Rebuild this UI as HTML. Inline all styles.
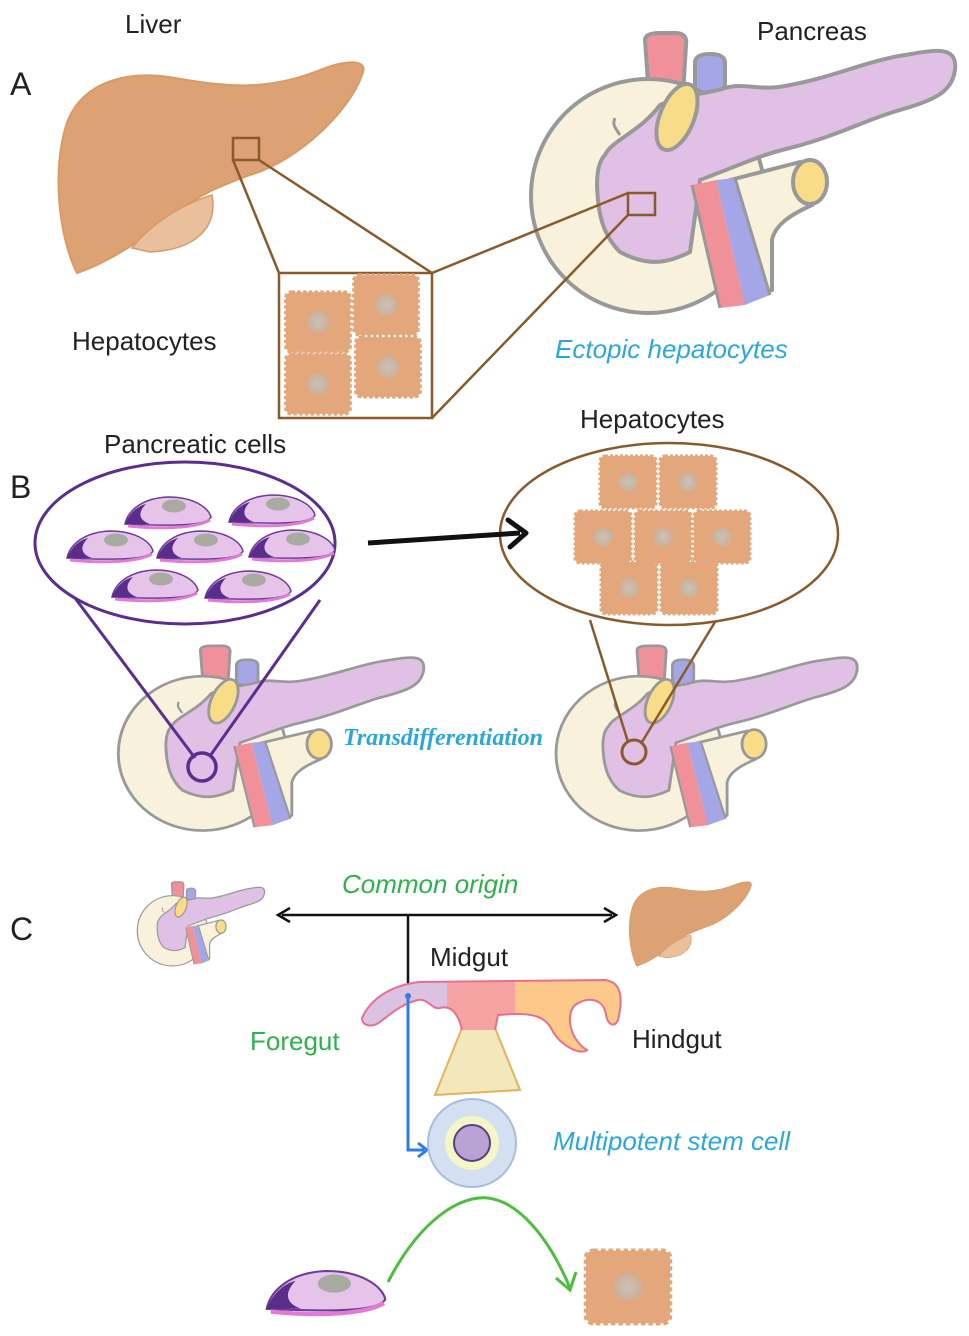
<!DOCTYPE html>
<html><head><meta charset="utf-8"><style>
html,body{margin:0;padding:0;background:#fff}
svg{display:block}
text{font-family:"Liberation Sans",sans-serif}
</style></head><body>
<svg width="969" height="1336" viewBox="0 0 969 1336" xmlns="http://www.w3.org/2000/svg">
<defs>
<radialGradient id="nuc"><stop offset="0" stop-color="#c8c2b8"/><stop offset="1" stop-color="#cfae94"/></radialGradient>
<g id="hep">
  <rect x="-28" y="-26" width="56" height="52" rx="5" fill="#e3a77b" stroke="#e3a77b" stroke-width="3" stroke-dasharray="3 2"/>
  <circle cx="0" cy="0" r="10" fill="url(#nuc)"/>
</g>
<g id="pcell">
  <path d="M-43,12 C-40,-2 -25,-14 0,-15 C25,-15 40,-5 43,5 C40,12 20,15 -43,12 Z" fill="#e6c4ea" stroke="#6d3a98" stroke-width="1.5"/>
  <path d="M-43,12 C-38,0 -30,-6 -22,-8 C-30,0 -30,8 -18,12 Z" fill="#5a2d8a"/>
  <path d="M-40,14 C0,18 30,15 42,8" fill="none" stroke="#e27ad6" stroke-width="3"/>
  <ellipse cx="6" cy="-6" rx="12" ry="6.5" fill="#a9aba3"/>
</g>
<g id="panc">
  <path d="M645,40 Q645,33 660,33 L675,33 Q688,33 686,45 L682,112 L650,112 Z" fill="#f0919a" stroke="#999" stroke-width="4"/>
  <path d="M695,62 Q696,54 710,54 Q724,54 725,62 L725,98 L695,98 Z" fill="#a5a6e6" stroke="#999" stroke-width="4"/>
  <circle cx="648" cy="196" r="117" fill="#f8f2dc" stroke="#999" stroke-width="4"/>
  <path d="M730,180 L800,162 L812,205 C790,215 775,225 772,240 L772,290 L745,302 Z" fill="#f8f2dc" stroke="#999" stroke-width="4"/>
  <path d="M605,155 C612,140 640,132 660,105 C690,92 705,95 725,88 C745,82 760,92 790,85 C830,78 870,60 905,55 C935,50 958,45 955,70 C952,92 935,100 900,110 C870,118 840,135 790,148 C760,155 740,165 700,180 L690,252 C670,262 650,268 620,252 C603,235 598,215 597,185 C597,170 600,160 605,155 Z" fill="#e0c0e4" stroke="#999" stroke-width="4"/>
  <path d="M620,135 C615,128 612,124 615,118" fill="none" stroke="#999" stroke-width="3"/>
  <path d="M692,185 L716,180 L745,305 L720,308 Z" fill="#f0919a"/>
  <path d="M716,180 L735,178 L770,295 L745,305 Z" fill="#a5a6e6"/>
  <path d="M692,185 L720,308 M735,178 L770,295" stroke="#999" stroke-width="3" fill="none"/>
  <ellipse cx="677" cy="117" rx="17" ry="35" transform="rotate(22 677 117)" fill="#f8dc88" stroke="#999" stroke-width="4"/>
  <ellipse cx="810" cy="182" rx="17" ry="22" fill="#f8dc88" stroke="#999" stroke-width="4"/>
</g>
<g id="liver">
  <path d="M77,273 C60,240 50,170 68,120 C85,80 130,70 175,78 C230,88 270,90 320,70 C345,60 370,58 362,75 C350,110 300,160 250,175 C215,188 200,195 180,210 C150,235 110,262 77,273 Z" fill="#dda274" stroke="#d99a66" stroke-width="2"/>
  <path d="M132,248 C150,225 180,205 212,195 C218,228 195,250 150,252 Z" fill="#e9bf9c" stroke="#d99a66" stroke-width="1.5"/>
</g>
</defs>

<!-- Panel A -->
<text x="125" y="33" font-size="26" fill="#222">Liver</text>
<text x="757" y="40" font-size="26" fill="#222">Pancreas</text>
<text x="10" y="95" font-size="32" fill="#222">A</text>
<use href="#liver"/>
<use href="#panc"/>
<rect x="233" y="138" width="26" height="22" fill="none" stroke="#8b5a2b" stroke-width="2.5"/>
<rect x="628" y="193" width="27" height="22" fill="none" stroke="#8b5a2b" stroke-width="2.5"/>
<g stroke="#8b5a2b" stroke-width="2.5" fill="none">
<line x1="233" y1="160" x2="279" y2="273"/>
<line x1="259" y1="160" x2="432" y2="273"/>
<line x1="628" y1="193" x2="432" y2="273"/>
<line x1="628" y1="215" x2="432" y2="418"/>
<rect x="279" y="273" width="153" height="145" fill="#fff"/>
</g>
<use href="#hep" transform="translate(318,322) scale(1.15)"/>
<use href="#hep" transform="translate(386,305) scale(1.15)"/>
<use href="#hep" transform="translate(388,367) scale(1.15)"/>
<use href="#hep" transform="translate(318,384) scale(1.15)"/>
<text x="72" y="350" font-size="26" fill="#222">Hepatocytes</text>
<text x="555" y="358" font-size="26" font-style="italic" fill="#29a8e0">Ectopic hepatocytes</text>

<!-- Panel B -->
<text x="10" y="498" font-size="32" fill="#222">B</text>
<text x="104" y="453" font-size="26" fill="#222">Pancreatic cells</text>
<text x="580" y="428" font-size="26" fill="#222">Hepatocytes</text>
<use href="#panc" transform="translate(-264,624) scale(0.72,0.66)"/>
<use href="#panc" transform="translate(179,624) scale(0.71,0.66)"/>
<ellipse cx="185" cy="543" rx="150" ry="81" fill="#fff" stroke="#5c2d91" stroke-width="3"/>
<line x1="75" y1="598" x2="195" y2="758" stroke="#5c2d91" stroke-width="3"/>
<line x1="320" y1="600" x2="210" y2="756" stroke="#5c2d91" stroke-width="3"/>
<circle cx="202" cy="767" r="14" fill="none" stroke="#5c2d91" stroke-width="3.5"/>
<use href="#pcell" x="168" y="512"/>
<use href="#pcell" x="272" y="510"/>
<use href="#pcell" x="110" y="546"/>
<use href="#pcell" x="200" y="546"/>
<use href="#pcell" x="292" y="545"/>
<use href="#pcell" x="155" y="585"/>
<use href="#pcell" x="248" y="586"/>
<ellipse cx="669" cy="534" rx="169" ry="91" fill="#fff" stroke="#8b5a2b" stroke-width="2.5"/>
<line x1="590" y1="620" x2="628" y2="742" stroke="#8b5a2b" stroke-width="2.5"/>
<line x1="715" y1="622" x2="642" y2="742" stroke="#8b5a2b" stroke-width="2.5"/>
<circle cx="634" cy="752" r="12" fill="none" stroke="#8b5a2b" stroke-width="3"/>
<use href="#hep" x="628" y="482"/>
<use href="#hep" x="688" y="482"/>
<use href="#hep" x="603" y="537"/>
<use href="#hep" x="663" y="537"/>
<use href="#hep" x="722" y="537"/>
<use href="#hep" x="629" y="588"/>
<use href="#hep" x="689" y="588"/>
<line x1="368" y1="543" x2="520" y2="533" stroke="#111" stroke-width="5"/>
<path d="M508,520 L526,533 L510,547" fill="none" stroke="#111" stroke-width="5" stroke-linecap="round" stroke-linejoin="round"/>
<text x="343" y="745" font-size="24" font-weight="bold" font-style="italic" fill="#29a8e0" style="font-family:'Liberation Serif',serif">Transdifferentiation</text>

<!-- Panel C -->
<text x="10" y="940" font-size="32" fill="#222">C</text>
<use href="#panc" transform="translate(-22,872) scale(0.3,0.3)"/>
<use href="#liver" transform="translate(606,857) scale(0.4)"/>
<text x="342" y="893" font-size="26" font-style="italic" fill="#2db34a">Common origin</text>
<line x1="282" y1="915" x2="612" y2="915" stroke="#111" stroke-width="2.5"/>
<path d="M290,908 L278,915 L290,922 M604,908 L616,915 L604,922" fill="none" stroke="#111" stroke-width="2.5"/>
<line x1="408" y1="915" x2="408" y2="995" stroke="#111" stroke-width="2.5"/>
<text x="430" y="966" font-size="26" fill="#222">Midgut</text>
<text x="250" y="1050" font-size="26" fill="#2db34a">Foregut</text>
<text x="632" y="1048" font-size="26" fill="#222">Hindgut</text>
<path d="M462,1028 L495,1028 L520,1090 L435,1095 Z" fill="#f3e7bc" stroke="#e6b25a" stroke-width="2"/>
<clipPath id="gutc"><path d="M362,1018 C370,1000 390,985 420,982 L605,980 C620,982 624,995 618,1020 C614,1028 608,1025 606,1015 C604,1000 590,995 575,1005 C565,1015 570,1040 587,1050 C580,1056 560,1045 552,1030 C545,1015 530,1012 498,1015 L495,1030 L462,1030 C458,1012 450,1005 440,1008 C432,1010 428,998 418,1000 C405,1003 395,1010 380,1022 C372,1028 362,1026 362,1018 Z"/></clipPath>
<g clip-path="url(#gutc)">
<rect x="350" y="970" width="97" height="70" fill="#dcc2e2"/>
<rect x="447" y="970" width="68" height="70" fill="#f6a3a3"/>
<rect x="515" y="970" width="110" height="90" fill="#fcc98a"/>
</g>
<path d="M462,1030 C458,1012 450,1005 440,1008 C432,1010 428,998 418,1000 C405,1003 395,1010 380,1022 C372,1028 362,1026 362,1018 C370,1000 390,985 420,982 L605,980 C620,982 624,995 618,1020 C614,1028 608,1025 606,1015 C604,1000 590,995 575,1005 C565,1015 570,1040 587,1050 C580,1056 560,1045 552,1030 C545,1015 530,1012 498,1015 L495,1030" fill="none" stroke="#e8708e" stroke-width="2"/>
<path d="M408,995 L408,1150 L424,1150" fill="none" stroke="#2f7ee8" stroke-width="3"/>
<path d="M418,1143 L427,1150 L418,1157" fill="none" stroke="#2f7ee8" stroke-width="3"/>
<circle cx="408" cy="996" r="3" fill="#2f7ee8"/>
<circle cx="472" cy="1143" r="44" fill="#d3e0f1" stroke="#a9bedc" stroke-width="2"/>
<circle cx="472" cy="1143" r="27" fill="#f4f6c6"/>
<circle cx="472" cy="1143" r="18" fill="#b9a2d4" stroke="#5a3f86" stroke-width="2"/>
<text x="553" y="1150" font-size="26" font-style="italic" fill="#29a8e0">Multipotent stem cell</text>
<path d="M388,1282 C420,1220 460,1195 488,1198 C520,1202 550,1240 570,1288" fill="none" stroke="#4cbf3e" stroke-width="3"/>
<path d="M556,1278 L570,1290 L576,1272" fill="none" stroke="#4cbf3e" stroke-width="3"/>
<use href="#pcell" transform="translate(326,1292) scale(1.38,1.4)"/>
<use href="#hep" transform="translate(628,1287) scale(1.5,1.4)"/>
</svg>
</body></html>
